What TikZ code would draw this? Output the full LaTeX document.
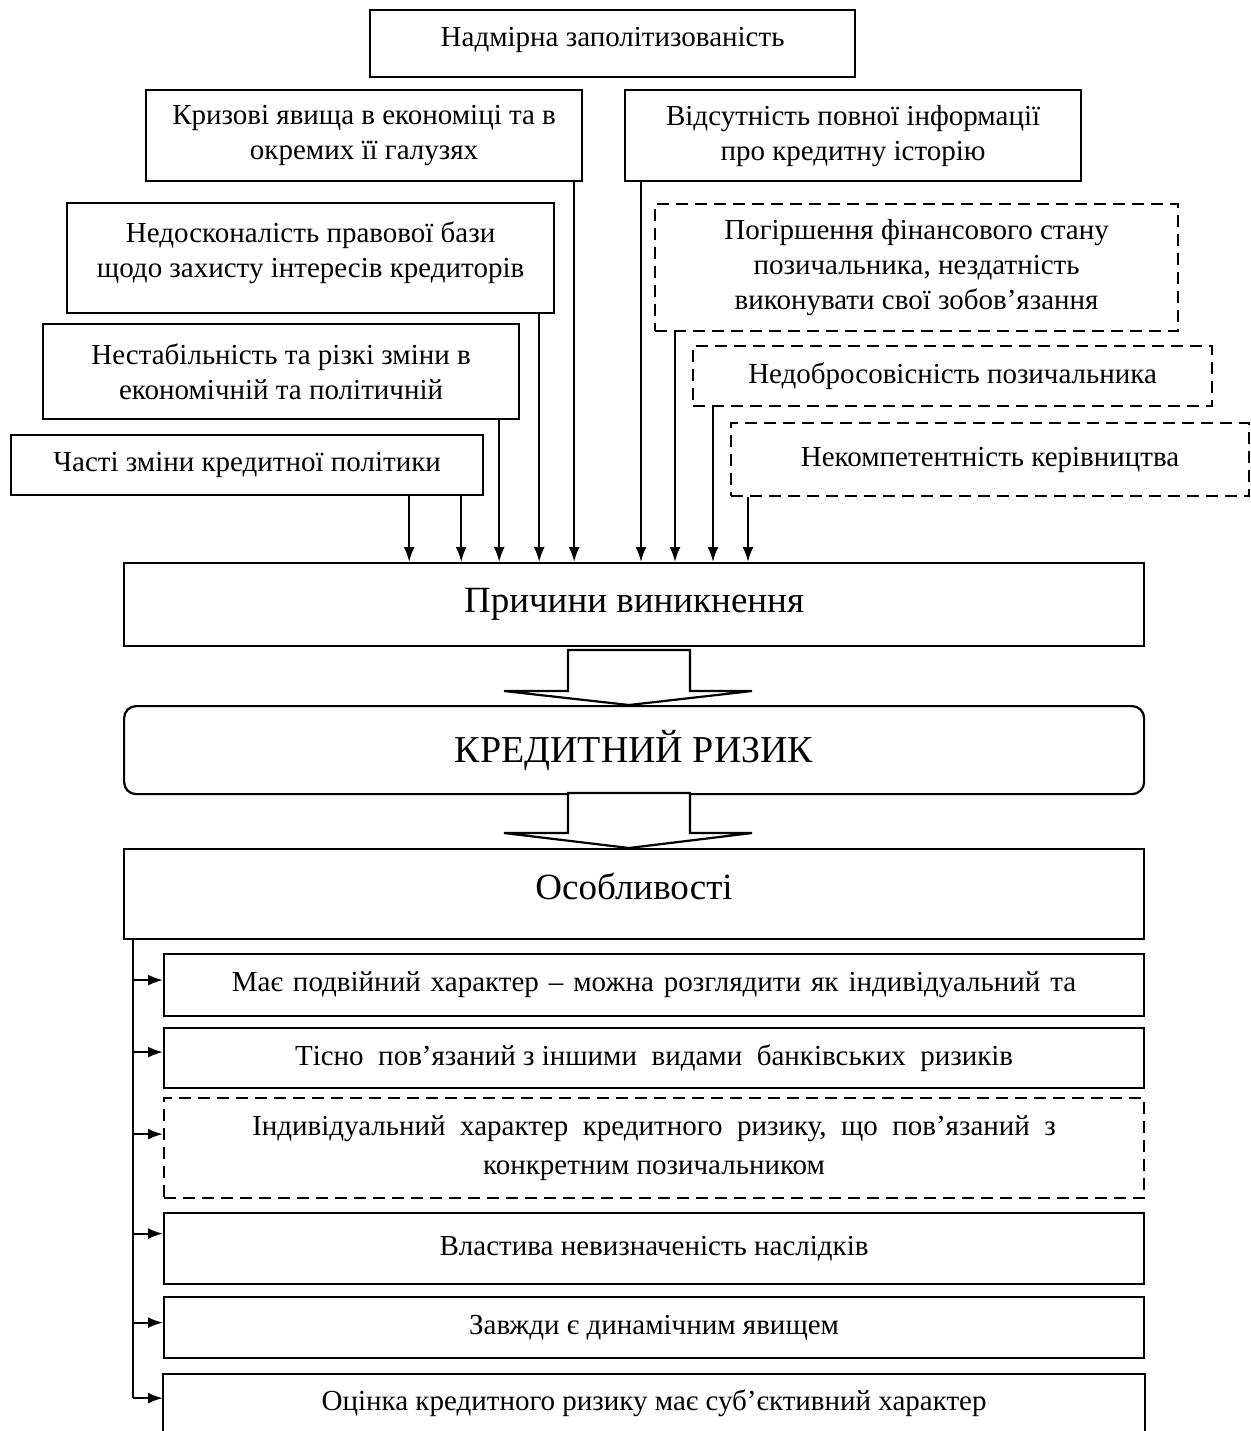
\documentclass[tikz,border=0pt]{standalone}
\usepackage{fontspec}
\setmainfont{Liberation Serif}
\usetikzlibrary{arrows.meta,calc}
\newcommand{\smallfs}{\fontsize{29}{35}\selectfont}
\newcommand{\wsp}{\hspace{10pt}}
\begin{document}
\begin{tikzpicture}[x=1pt,y=-1pt,
  box/.style={draw, line width=2.2pt, align=center, inner sep=0pt, anchor=north west, font=\smallfs},
  dbox/.style={box, dash pattern=on 12pt off 7pt},
  arr/.style={line width=2.2pt, -{Latex[length=15pt,width=11pt]}},
  plain/.style={line width=2.2pt},
  barrow/.style={line width=2.2pt, fill=white, line join=miter}]
\clip (0,0) rectangle (1250,1431);
\fill[white] (0,0) rectangle (1250,1431);
% top causes
\node[box, minimum width=485pt, minimum height=67pt] (top) at (369,9) {Надмірна заполітизованість\\[-21pt]};
\node[box, minimum width=436pt, minimum height=91pt] (b2) at (145,89) {Кризові явища в економіці  та в\\ окремих її галузях};
\node[box, minimum width=456pt, minimum height=91pt] (b3) at (624,89) {Відсутність повної  інформації\\ про кредитну історію};
\node[box, minimum width=487pt, minimum height=110pt] (b4) at (66,202) {Недосконалість правової бази\\ щодо захисту інтересів кредиторів\\[-19pt]};
\node[box, minimum width=476pt, minimum height=95pt] (b5) at (42,323) {Нестабільність та різкі зміни в\\ економічній  та політичній};
\node[box, minimum width=472pt, minimum height=60pt] (b6) at (10,434) {Часті зміни кредитної  політики};
\node[dbox, minimum width=523pt, minimum height=127pt] (b7) at (654,203) {Погіршення  фінансового  стану\\ позичальника, нездатність\\ виконувати  свої зобов’язання};
\node[dbox, minimum width=519pt, minimum height=60pt] (b8) at (692,345) {Недобросовісність позичальника};
\node[dbox, minimum width=518pt, minimum height=73pt] (b9) at (730,422) {Некомпетентність керівництва};
% central boxes
\node[box, minimum width=1020pt, minimum height=83pt, font=\fontsize{37}{44}\selectfont] (prich) at (123,562) {Причини виникнення};
\node[box, rounded corners=12pt, minimum width=1020pt, minimum height=88pt, font=\fontsize{38}{44}\selectfont] (kr) at (123,705) {КРЕДИТНИЙ РИЗИК};
\node[box, minimum width=1020pt, minimum height=90pt, font=\fontsize{37}{44}\selectfont] (osob) at (123,848) {Особливості\\[-28pt]};
% cause connectors
\draw[arr] ([xshift=-9pt]b2.south east) -- ([xshift=-9pt]b2.south east |- prich.north);
\draw[arr] ([xshift=17pt]b3.south west) -- ([xshift=17pt]b3.south west |- prich.north);
\draw[arr] ([xshift=-16pt]b4.south east) -- ([xshift=-16pt]b4.south east |- prich.north);
\draw[arr] ([xshift=-21pt]b5.south east) -- ([xshift=-21pt]b5.south east |- prich.north);
\draw[arr] ([xshift=-75pt]b6.south east) -- ([xshift=-75pt]b6.south east |- prich.north);
\draw[arr] ([xshift=-23pt]b6.south east) -- ([xshift=-23pt]b6.south east |- prich.north);
\draw[arr] ([xshift=21pt]b7.south west) -- ([xshift=21pt]b7.south west |- prich.north);
\draw[arr] ([xshift=21pt]b8.south west) -- ([xshift=21pt]b8.south west |- prich.north);
\draw[arr] ([xshift=18pt]b9.south west) -- ([xshift=18pt]b9.south west |- prich.north);
% block arrows
\draw[barrow] (568,650) -- (690,650) -- (690,691) -- (752,691) -- (629,705) -- (504,691) -- (568,691) -- cycle;
\draw[barrow] (568,793) -- (690,793) -- (690,833) -- (752,833) -- (629,848) -- (504,833) -- (568,833) -- cycle;
% features
\node[box, minimum width=980pt, minimum height=62pt] (f1) at (163,953) {Має\wsp подвійний\wsp характер\wsp –\wsp можна\wsp розглядити\wsp як\wsp індивідуальний\wsp та};
\node[box, minimum width=980pt, minimum height=60pt] (f2) at (163,1027) {Тісно \ пов’язаний з іншими \ видами \ банківських \ ризиків};
\node[dbox, minimum width=980pt, minimum height=100pt, font=\fontsize{29}{39}\selectfont] (f3) at (163,1097) {Індивідуальний \ характер \ кредитного \ ризику, \ що \ пов’язаний \ з\\ конкретним позичальником};
\node[box, minimum width=980pt, minimum height=71pt] (f4) at (163,1212) {Властива невизначеність наслідків};
\node[box, minimum width=980pt, minimum height=61pt] (f5) at (163,1296) {Завжди є динамічним явищем};
\node[box, draw=none, minimum width=980pt, minimum height=56pt] (f6) at (163,1374) {Оцінка кредитного ризику має суб’єктивний характер};
\draw[plain] ([yshift=-40pt]f6.south west) -- (f6.north west) -- (f6.north east) -- ([yshift=-40pt]f6.south east);
% spine
\coordinate (sp) at ([xshift=10pt]osob.south west);
\draw[plain] (sp) -- ([yshift=5pt]f6.west -| sp);
\draw[arr] ([yshift=5pt]f1.west -| sp) -- ([yshift=5pt]f1.west);
\draw[arr] ([yshift=6pt]f2.west -| sp) -- ([yshift=6pt]f2.west);
\draw[arr] ([yshift=14pt]f3.west -| sp) -- ([yshift=14pt]f3.west);
\draw[arr] ([yshift=15pt]f4.west -| sp) -- ([yshift=15pt]f4.west);
\draw[arr] ([yshift=5pt]f5.west -| sp) -- ([yshift=5pt]f5.west);
\draw[arr] ([yshift=5pt]f6.west -| sp) -- ([yshift=5pt]f6.west);
\end{tikzpicture}
\end{document}
